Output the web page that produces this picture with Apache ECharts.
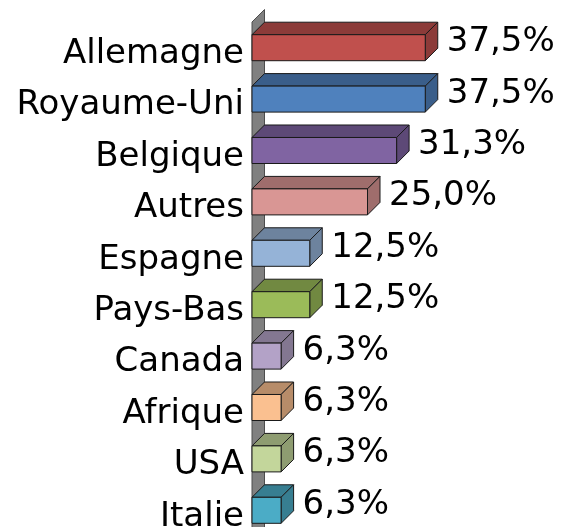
<!DOCTYPE html>
<html>
<head>
<meta charset="utf-8">
<script src="https://cdn.jsdelivr.net/npm/echarts@6/dist/echarts.min.js"></script>
<style>
  html, body { margin: 0; padding: 0; background: #fff; }
  #chart { width: 562px; height: 527px; }
</style>
</head>
<body>
<div id="chart"></div>
<script>
// categories, top to bottom
var categories = ['Allemagne', 'Royaume-Uni', 'Belgique', 'Autres', 'Espagne', 'Pays-Bas', 'Canada', 'Afrique', 'USA', 'Italie'];
// share in %
var values = [37.5, 37.5, 31.3, 25.0, 12.5, 12.5, 6.3, 6.3, 6.3, 6.3];
// front / dark face colours
var frontColors = ['#C0504D', '#4F81BD', '#8064A2', '#D99694', '#95B3D7', '#9BBB59', '#B3A2C7', '#FAC090', '#C3D69B', '#4BACC6'];
var darkColors = ['#8C3B39', '#3A5E8A', '#5D4977', '#9F6D6C', '#6D839E', '#718941', '#837791', '#B78C69', '#8E9C71', '#377E91'];

var DEPTH = 12.5;
var FONT = 'DejaVu Sans, Verdana, sans-serif';

function fmt(v) {
  return v.toFixed(1).replace('.', ',') + '%';
}

var myChart = echarts.init(document.getElementById('chart'));

// mur gris à gauche
function renderWall(params, api) {
  var cs = params.coordSys;
  var x = cs.x, top = cs.y, bottom = cs.y + cs.height + 20;
  return {
    type: 'polygon',
    shape: { points: [[x, top], [x + DEPTH, top - DEPTH], [x + DEPTH, bottom - DEPTH], [x, bottom]] },
    style: { fill: '#808080', stroke: '#4d4d4d', lineWidth: 1 }
  };
}

// barre 3D : face avant, dessus, côté, étiquette
function renderBar(params, api) {
  var idx = api.value(0);
  var val = api.value(1);
  var p0 = api.coord([0, idx]);
  var p1 = api.coord([val, idx]);
  var h = api.size([0, 1])[1] * 0.506;
  var x0 = p0[0], x1 = p1[0];
  var yt = p1[1] - h / 2, yb = p1[1] + h / 2;
  var d = DEPTH;
  var i = params.dataIndex;
  var edge = { stroke: '#1a1a1a', lineWidth: 1 };
  return {
    type: 'group',
    children: [
      {
        type: 'polygon',
        shape: { points: [[x0, yt], [x1, yt], [x1 + d, yt - d], [x0 + d, yt - d]] },
        style: Object.assign({ fill: darkColors[i] }, edge)
      },
      {
        type: 'polygon',
        shape: { points: [[x1, yt], [x1 + d, yt - d], [x1 + d, yb - d], [x1, yb]] },
        style: Object.assign({ fill: darkColors[i] }, edge)
      },
      {
        type: 'rect',
        shape: { x: x0, y: yt, width: x1 - x0, height: h },
        style: Object.assign({ fill: frontColors[i] }, edge)
      },
      {
        type: 'text',
        x: x1 + d + 9,
        y: p1[1] - d / 2 + 1,
        style: {
          text: fmt(val),
          fill: '#000',
          font: '34px ' + FONT,
          verticalAlign: 'middle',
          align: 'left'
        }
      }
    ]
  };
}

var option = {
  animation: false,
  grid: { left: 252, top: 22, width: 231, height: 514, outerBoundsMode: 'none', containLabel: false },
  xAxis: {
    type: 'value',
    min: 0,
    max: 50,
    show: false
  },
  yAxis: {
    type: 'category',
    inverse: true,
    data: categories,
    axisLine: { show: false },
    axisTick: { show: false },
    splitLine: { show: false },
    axisLabel: {
      color: '#000',
      fontSize: 34,
      fontFamily: FONT,
      margin: 8,
      verticalAlign: 'top',
      lineHeight: 13
    }
  },
  series: [
    {
      type: 'custom',
      renderItem: renderWall,
      data: [[0, 0]],
      z: 1,
      silent: true
    },
    {
      type: 'custom',
      renderItem: renderBar,
      encode: { x: 1, y: 0 },
      data: values.map(function (v, i) { return [i, v]; }),
      z: 2
    }
  ]
};

myChart.setOption(option);
</script>
</body>
</html>
